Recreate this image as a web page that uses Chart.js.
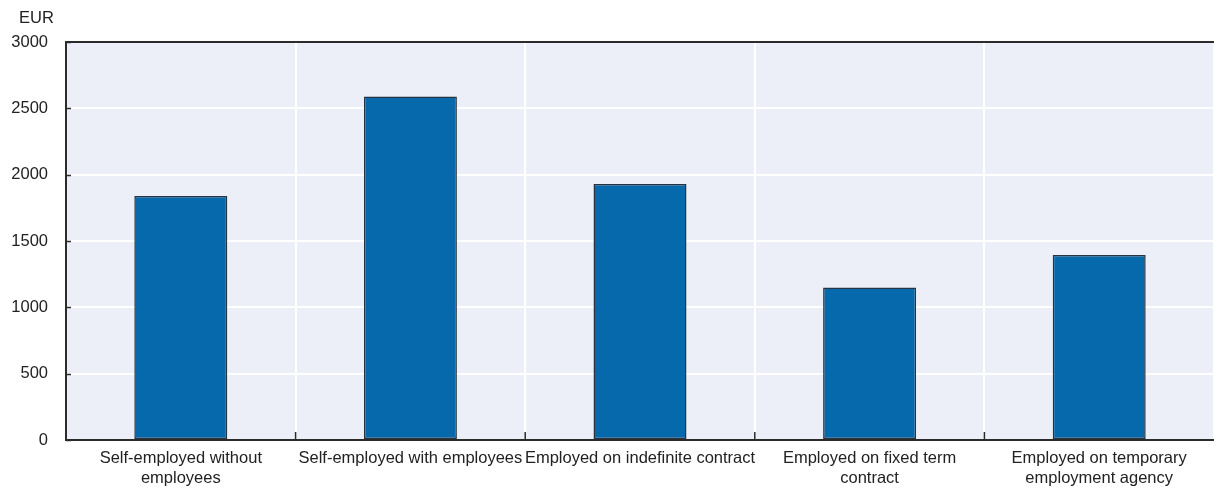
<!DOCTYPE html>
<html>
<head>
<meta charset="utf-8">
<script src="https://cdn.jsdelivr.net/npm/chart.js@4.4.1/dist/chart.umd.min.js"></script>
<style>
  html, body { margin: 0; padding: 0; background: #fff; }
  #wrap { position: relative; width: 1214px; height: 490px; }
  #unit { position: absolute; left: 19px; top: 8px; font: 16.5px "Liberation Sans", Arial, sans-serif; color: #222; }
</style>
</head>
<body>
<div id="wrap">
  <div id="unit">EUR</div>
  <canvas id="chart" width="1214" height="490"></canvas>
</div>
<script>
// categories (multi-line labels) and values in EUR
const categories = [
    ["Self-employed without", "employees"],
    "Self-employed with employees",
    "Employed on indefinite contract",
    ["Employed on fixed term", "contract"],
    ["Employed on temporary", "employment agency"]
];
const earnings = [1840, 2590, 1930, 1150, 1395];
const yTicks = [0, 500, 1000, 1500, 2000, 2500, 3000];

const AXIS = "#2b2b2b";
const FONT = { family: "'Liberation Sans', Arial, sans-serif", size: 16.5, lineHeight: 1.2 };

// small inward tick marks + top frame line
const frame = {
    id: "frame",
    afterDraw(chart) {
        const { ctx, chartArea: a, scales } = chart;
        ctx.save();
        ctx.strokeStyle = AXIS;
        ctx.lineWidth = 2;
        ctx.beginPath();
        ctx.moveTo(a.left - 1, a.top);
        ctx.lineTo(a.right, a.top);
        ctx.stroke();
        ctx.lineWidth = 1.5;
        yTicks.forEach(v => {
            const y = Math.round(scales.y.getPixelForValue(v)) + 0.5;
            ctx.beginPath();
            ctx.moveTo(a.left, y);
            ctx.lineTo(a.left + 5, y);
            ctx.stroke();
        });
        for (let i = 1; i < categories.length; i++) {
            const x = (scales.x.getPixelForValue(i - 1) + scales.x.getPixelForValue(i)) / 2;
            ctx.beginPath();
            ctx.moveTo(x, a.bottom);
            ctx.lineTo(x, a.bottom - 8);
            ctx.stroke();
        }
        ctx.restore();
    }
};

new Chart(document.getElementById("chart"), {
    type: "bar",
    data: {
        labels: categories,
        datasets: [{
            data: earnings,
            backgroundColor: "#0569ab",
            borderColor: "#263340",
            borderWidth: 1.5,
            borderSkipped: false,
            barPercentage: 0.81,
            categoryPercentage: 0.5
        }]
    },
    options: {
        responsive: false,
        animation: false,
        layout: { padding: { top: 42, right: 0, left: 0, bottom: 0 } },
        plugins: { legend: { display: false }, tooltip: { enabled: false } },
        scales: {
            x: {
                offset: true,
                grid: { offset: true, color: "#ffffff", lineWidth: 2, drawTicks: false },
                border: { color: AXIS, width: 2 },
                ticks: { color: "#222", font: FONT, padding: 9, maxRotation: 0, autoSkip: false },
                afterFit: s => { s.height = 50; }
            },
            y: {
                min: 0,
                max: 3000,
                ticks: { stepSize: 500, color: "#222", font: FONT, padding: 18, callback: v => String(v) },
                grid: { color: "#ffffff", lineWidth: 2, drawTicks: false },
                border: { color: AXIS, width: 2 },
                afterFit: s => { s.width = 66; }
            }
        }
    },
    plugins: [{
        id: "bg",
        beforeDraw(chart) {
            const { ctx, chartArea: a } = chart;
            ctx.save();
            ctx.fillStyle = "#eceff7";
            ctx.fillRect(a.left, a.top, a.right - a.left, a.bottom - a.top);
            ctx.restore();
        }
    }, frame]
});
</script>
</body>
</html>
